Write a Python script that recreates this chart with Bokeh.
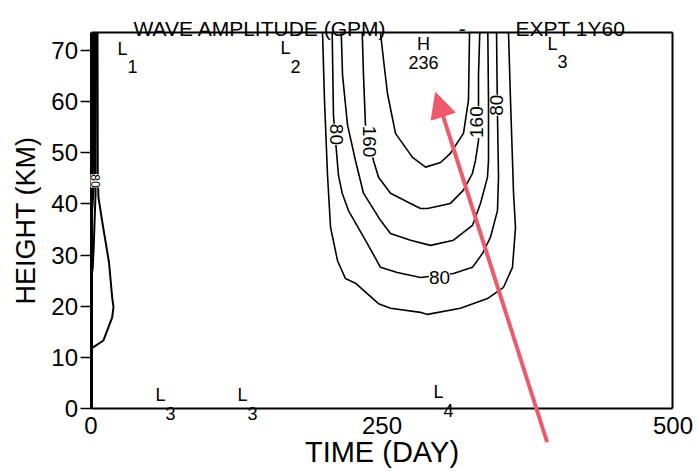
import math

from bokeh.core.properties import value
from bokeh.embed import file_html
from bokeh.models import (Arrow, ColumnDataSource, FixedTicker, Label, LinearAxis,
                          NormalHead, Range1d)
from bokeh.plotting import figure
from bokeh.resources import INLINE

FONT = "Liberation Sans"

# Contour paths of wave amplitude (gpm); time in days, height in km
levels = [40, 80, 120, 160, 200]
c40_day = [198.9, 200.6, 203.2, 205.8, 211.8, 218.6, 227.2, 247.0, 257.3, 283.1, 289.1,
           317.4, 340.6, 354.4, 362.1, 364.7, 363.0, 362.1, 360.4, 358.7]
c40_km = [73.5, 60.3, 45.6, 35.4, 28.9, 25.4, 24.5, 20.5, 19.6, 18.8, 18.4,
          19.6, 21.5, 23.7, 27.6, 35.4, 42.1, 48.5, 60.3, 73.5]
c80_day = [207.2, 208.3, 212.6, 215.8, 221.2, 237.3, 248.7, 263.1, 283.1, 311.4, 327.7,
           336.3, 343.2, 349.2, 350.1, 349.2, 348.4]
c80_km = [73.5, 57.3, 45.6, 42.1, 38.7, 32.3, 27.6, 26.6, 25.6, 26.4, 27.6,
          30.3, 33.5, 38.7, 45.2, 57.3, 73.5]
c120_day = [215.0, 216.1, 220.4, 227.2, 234.1, 248.7, 257.3, 274.5, 291.7, 311.4, 327.7,
            334.6, 340.6, 341.5, 341.5, 340.9]
c120_km = [73.5, 65.2, 55.4, 48.5, 42.1, 36.8, 34.2, 32.9, 31.9, 32.9, 35.8,
           40.1, 45.2, 48.5, 60.3, 73.5]
c160_day = [233.0, 234.1, 235.8, 242.7, 247.0, 257.3, 274.5, 283.1, 289.1, 308.8, 320.0,
            327.7, 330.3, 332.9, 332.9, 334.0]
c160_km = [73.5, 65.2, 55.4, 48.5, 45.2, 42.1, 40.1, 39.1, 39.1, 40.1, 42.7,
           46.0, 48.5, 52.4, 65.2, 73.5]
c200_day = [248.7, 251.3, 254.7, 261.6, 276.2, 287.4, 300.3, 308.8, 320.0, 324.3, 325.2]
c200_km = [73.5, 68.2, 61.6, 53.8, 49.1, 47.2, 48.1, 49.9, 53.8, 60.3, 73.5]

# Initial transient hugging day 0
e40_day = [0.0, 2.1, 10.7, 18.2, 19.3, 18.2, 15.5, 9.9, 6.4, 5.8, 5.6]
e40_km = [11.7, 12.0, 13.3, 17.8, 19.8, 21.7, 28.5, 36.2, 41.3, 46.0, 73.5]
e80_day = [0.0, 1.5, 2.4, 3.0, 3.9, 4.4]
e80_km = [25.3, 27.5, 32.0, 36.0, 42.0, 73.5]
e120_day = [0.0, 1.4, 2.8, 3.4]
e120_km = [36.0, 40.0, 45.0, 73.5]
e160_day = [0.0, 1.0, 2.0, 2.4]
e160_km = [42.0, 45.0, 48.0, 73.5]
e200_day = [0.0, 0.6, 1.3, 1.5]
e200_km = [46.0, 48.0, 52.0, 73.5]

# Contour value labels
lab_text = ["80", "160", "160", "80", "80", "80"]
lab_day = [210.9, 239.3, 331.2, 348.4, 299.4, 3.5]
lab_km = [53.6, 52.2, 56.0, 59.3, 25.6, 44.5]
lab_deg = [-90, -90, 90, 90, 0, -90]

# Highs and lows with their values
ext_kind = ["L", "L", "L", "L", "L", "L", "H"]
ext_val = ["1", "2", "3", "3", "3", "4", "236"]
ext_day = [27.1, 167.1, 396.5, 59.7, 130.2, 298.5, 285.7]
ext_km = [70.3, 70.4, 71.3, 2.6, 2.6, 3.2, 71.2]

x_ticks = [0, 250, 500]
y_ticks = [0, 10, 20, 30, 40, 50, 60, 70]
DAY_MAX = 500
TOP_KM = 73.5

# The plotting frame covers the whole canvas so that nothing drawn around the
# data box gets clipped; the four edges of the box are axes pinned in place.
p = figure(width=698, height=471, output_backend="svg", toolbar_location=None,
           x_range=Range1d(-77.75, 521.91), y_range=Range1d(-12.32, 79.78),
           min_border=0)
p.grid.visible = False
p.background_fill_color = "white"
p.border_fill_color = "white"
p.outline_line_color = None

p.xaxis.fixed_location = 0
p.xaxis.bounds = (0, DAY_MAX)
p.yaxis.fixed_location = 0
p.yaxis.bounds = (0, TOP_KM)
p.xaxis.ticker = FixedTicker(ticks=x_ticks, minor_ticks=[])
p.yaxis.ticker = FixedTicker(ticks=y_ticks, minor_ticks=[])
for ax in (p.xaxis[0], p.yaxis[0]):
    ax.axis_line_color = "black"
    ax.major_label_text_font = FONT
    ax.major_label_text_font_size = "24px"
    ax.major_label_text_color = "black"
    ax.axis_label_text_font = FONT
    ax.axis_label_text_font_style = "normal"
    ax.axis_label_text_color = "black"
    ax.major_tick_in = 0
    ax.minor_tick_line_color = None
p.xaxis.axis_line_width = 2
p.yaxis.axis_line_width = 3
p.xaxis.major_tick_out = 0
p.xaxis.major_label_standoff = 9
p.xaxis.axis_label = "TIME (DAY)"
p.xaxis.axis_label_text_font_size = "29px"
p.xaxis.axis_label_standoff = -2
p.yaxis.major_tick_out = 11
p.yaxis.major_tick_line_width = 1.5
p.yaxis.major_tick_line_color = "black"
p.yaxis.major_label_standoff = 2
p.yaxis.axis_label = "HEIGHT (KM)"
p.yaxis.axis_label_text_font_size = "27px"
p.yaxis.axis_label_standoff = 8

# Right and top edges of the data box
p.add_layout(LinearAxis(fixed_location=DAY_MAX, bounds=(0, TOP_KM),
                        ticker=FixedTicker(ticks=[]), major_tick_out=0, major_tick_in=0,
                        axis_line_width=2, axis_line_color="black"), "right")
p.add_layout(LinearAxis(fixed_location=TOP_KM, bounds=(0, DAY_MAX),
                        ticker=FixedTicker(ticks=[]), major_tick_out=0, major_tick_in=0,
                        axis_line_width=2, axis_line_color="black"), "above")

# Main contour family
p.multi_line(xs=[c40_day, c80_day, c120_day, c160_day, c200_day],
             ys=[c40_km, c80_km, c120_km, c160_km, c200_km],
             line_color="black", line_width=1.6)
# Transient near day 0
p.multi_line(xs=[e40_day, e80_day, e120_day, e160_day, e200_day],
             ys=[e40_km, e80_km, e120_km, e160_km, e200_km],
             line_color="black", line_width=2)

for t, xd, yk, deg in zip(lab_text, lab_day, lab_km, lab_deg):
    small = xd < 20
    p.add_layout(Label(x=xd, y=yk, text=t, angle=math.radians(deg),
                       text_align="center", text_baseline="middle",
                       text_font=FONT, text_font_size="12px" if small else "19px",
                       text_color="black", background_fill_color="white"))

lows = ColumnDataSource(dict(
    x=[d for d, k in zip(ext_day, ext_kind) if k == "L"],
    y=[v for v, k in zip(ext_km, ext_kind) if k == "L"],
    kind=[k for k in ext_kind if k == "L"],
    val=[v for v, k in zip(ext_val, ext_kind) if k == "L"]))
highs = ColumnDataSource(dict(
    x=[d for d, k in zip(ext_day, ext_kind) if k == "H"],
    y=[v for v, k in zip(ext_km, ext_kind) if k == "H"],
    kind=[k for k in ext_kind if k == "H"],
    val=[v for v, k in zip(ext_val, ext_kind) if k == "H"]))
for src, dx, dy in ((lows, 10, 18), (highs, 0, 18.5)):
    p.text(x="x", y="y", text="kind", source=src, text_align="center",
           text_baseline="middle", text_font=value(FONT), text_font_size="18px",
           text_color="black")
    p.text(x="x", y="y", text="val", source=src, x_offset=dx, y_offset=dy,
           text_align="center", text_baseline="middle", text_font=value(FONT),
           text_font_size="18px", text_color="black")

# Heading above the data box
for txt, xd, align in (("WAVE AMPLITUDE (GPM)", 36.5, "left"), ("-", 319.0, "center"),
                       ("EXPT 1Y60", 364.7, "left")):
    p.add_layout(Label(x=xd, y=74.3, text=txt, text_align=align,
                       text_baseline="alphabetic", text_font=FONT,
                       text_font_size="21px", text_color="black"))

# Pointer to the amplitude maximum
pink = "#EE5A6B"
p.add_layout(Arrow(end=NormalHead(size=25, fill_color=pink, line_color=pink),
                   x_start=391.9, y_start=-6.6, x_end=296.0, y_end=61.8,
                   line_color=pink, line_width=4))

open("out.html", "w").write(file_html(p, INLINE))
